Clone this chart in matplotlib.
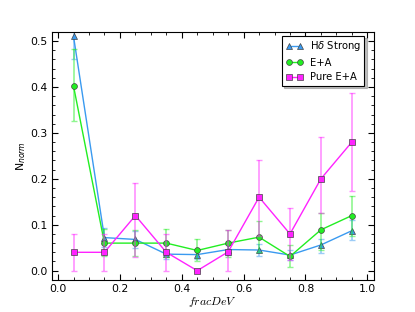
import matplotlib
matplotlib.use("Agg")
import matplotlib.pyplot as plt
import numpy as np
from matplotlib.ticker import MultipleLocator

# bins of fracDeV
frac = [0.05, 0.15, 0.25, 0.35, 0.45, 0.55, 0.65, 0.75, 0.85, 0.95]

# H-delta strong
hd = [0.51, 0.072, 0.068, 0.036, 0.035, 0.046, 0.045, 0.034, 0.056, 0.087]
hd_lo = [0.05, 0.02, 0.018, 0.01, 0.01, 0.012, 0.012, 0.01, 0.018, 0.02]
hd_hi = [0.05, 0.02, 0.018, 0.01, 0.01, 0.012, 0.012, 0.01, 0.013, 0.024]

# E+A
ea = [0.402, 0.06, 0.06, 0.06, 0.044, 0.06, 0.073, 0.031, 0.089, 0.12]
ea_lo = [0.077, 0.029, 0.029, 0.03, 0.024, 0.03, 0.033, 0.022, 0.043, 0.045]
ea_hi = [0.08, 0.031, 0.028, 0.03, 0.025, 0.029, 0.035, 0.024, 0.036, 0.042]

# pure E+A
pure = [0.04, 0.04, 0.12, 0.04, 0.0, 0.041, 0.16, 0.08, 0.2, 0.28]
pure_lo = [0.04, 0.04, 0.09, 0.04, 0.0, 0.041, 0.084, 0.056, 0.075, 0.106]
pure_hi = [0.04, 0.04, 0.07, 0.04, 0.0, 0.048, 0.08, 0.056, 0.09, 0.106]

plt.rcParams['font.size'] = 7.8
plt.rcParams['xtick.direction'] = 'in'
plt.rcParams['ytick.direction'] = 'in'
plt.rcParams['xtick.top'] = True
plt.rcParams['ytick.right'] = True

fig = plt.figure(figsize=(4.15, 3.12), dpi=100)
ax = fig.add_axes([0.125, 0.103, 0.775, 0.795])

series = [
    (hd, hd_lo, hd_hi, '#3a9af0', '^', r'H$\delta$ Strong'),
    (ea, ea_lo, ea_hi, '#22ee22', 'o', 'E+A'),
    (pure, pure_lo, pure_hi, '#ff22ff', 's', 'Pure E+A'),
]
for vals, lo, hi, col, mk, lab in series:
    ax.errorbar(frac, vals, yerr=[lo, hi], fmt='none', ecolor=col, alpha=0.5,
                elinewidth=1.2, capsize=2.5, capthick=1.0)
    ax.plot(frac, vals, color=col, marker=mk, markersize=4.2, linewidth=1.0,
            markerfacecolor=col, markeredgecolor='#444444', markeredgewidth=0.5,
            label=lab)

ax.set_xlim(-0.02, 1.02)
ax.set_ylim(-0.02, 0.52)
ax.xaxis.set_major_locator(MultipleLocator(0.2))
ax.xaxis.set_minor_locator(MultipleLocator(0.05))
ax.yaxis.set_major_locator(MultipleLocator(0.1))
ax.yaxis.set_minor_locator(MultipleLocator(0.02))
ax.tick_params(which='major', length=4, pad=3)
ax.tick_params(which='minor', length=2)

ax.set_xlabel(r'$fracDeV$', math_fontfamily='cm', fontsize=8.5, labelpad=1)
ax.set_ylabel(r'N$_{norm}$', labelpad=2)

leg = ax.legend(loc='upper right', bbox_to_anchor=(0.972, 0.985), borderaxespad=0,
                numpoints=2, shadow={'ox': 1.5, 'oy': -1.5, 'color': '0.5'},
                fancybox=False, framealpha=1, edgecolor='black', handlelength=1.7,
                fontsize=7.2, borderpad=0.35, labelspacing=0.45,
                handletextpad=0.7)
leg.get_frame().set_linewidth(0.8)

fig.savefig('out.png', dpi=100)
